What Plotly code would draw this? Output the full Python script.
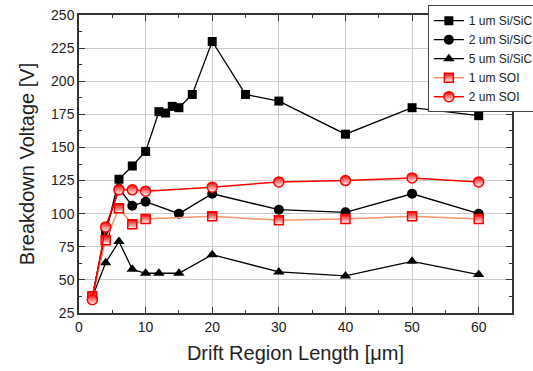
import plotly.graph_objects as go

x_1um_sisic = [2, 4, 6, 8, 10, 12, 13, 14, 15, 17, 20, 25, 30, 40, 50, 60]
y_1um_sisic = [38, 85, 126, 136, 147, 177, 176, 181, 180, 190, 230, 190, 185, 160, 180, 174]

x_2um_sisic = [2, 4, 6, 8, 10, 15, 20, 30, 40, 50, 60]
y_2um_sisic = [37, 88, 119, 106, 109, 100, 115, 103, 101, 115, 100]

x_5um_sisic = [2, 4, 6, 8, 10, 12, 15, 20, 30, 40, 50, 60]
y_5um_sisic = [37, 63, 79, 58, 55, 55, 55, 69, 56, 53, 64, 54]

x_1um_soi = [2, 4, 6, 8, 10, 20, 30, 40, 50, 60]
y_1um_soi = [37.5, 80, 104, 92, 96, 98, 95, 96, 98, 96]

x_2um_soi = [2, 4, 6, 8, 10, 20, 30, 40, 50, 60]
y_2um_soi = [35, 90, 118, 118, 117, 120, 124, 125, 127, 124]

names = ["1 um Si/SiC", "2 um Si/SiC", "5 um Si/SiC", "1 um SOI", "2 um SOI"]

fig = go.Figure()
fig.add_trace(go.Scatter(x=x_1um_sisic, y=y_1um_sisic, name=names[0], mode="lines+markers",
                         line=dict(color="black", width=1.3),
                         marker=dict(symbol="square", size=9, color="black")))
fig.add_trace(go.Scatter(x=x_2um_sisic, y=y_2um_sisic, name=names[1], mode="lines+markers",
                         line=dict(color="black", width=1.3),
                         marker=dict(symbol="circle", size=10, color="black")))
fig.add_trace(go.Scatter(x=x_5um_sisic, y=y_5um_sisic, name=names[2], mode="lines+markers",
                         line=dict(color="black", width=1.3),
                         marker=dict(symbol="triangle-up", size=10, color="black")))
fig.add_trace(go.Scatter(x=x_1um_soi, y=y_1um_soi, name=names[3], mode="lines+markers",
                         line=dict(color="#f4956b", width=1.5),
                         marker=dict(symbol="square", size=9, color="red",
                                     gradient=dict(type="vertical", color="white"),
                                     line=dict(color="red", width=1.5))))
fig.add_trace(go.Scatter(x=x_2um_soi, y=y_2um_soi, name=names[4], mode="lines+markers",
                         line=dict(color="red", width=1.5),
                         marker=dict(symbol="circle", size=10, color="red",
                                     gradient=dict(type="vertical", color="white"),
                                     line=dict(color="red", width=1.5))))

axis_common = dict(
    showline=True, linecolor="#333", linewidth=1.5, mirror="ticks",
    ticks="inside", ticklen=6, tickcolor="#333", tickwidth=1,
    showgrid=True, gridcolor="#cccccc", gridwidth=1, zeroline=False,
    tickfont=dict(family="Liberation Sans, Arial", size=14, color="#222"),
)

fig.update_layout(
    width=533, height=371,
    margin=dict(l=79, r=21, t=15, b=58, autoexpand=False),
    paper_bgcolor="white", plot_bgcolor="white",
    font=dict(family="Liberation Sans, Arial", color="#222"),
    xaxis=dict(range=[0, 65], tickvals=[0, 10, 20, 30, 40, 50, 60],
               minor=dict(tickvals=[5, 15, 25, 35, 45, 55, 65], ticks="inside", ticklen=3,
                          tickcolor="#333", showgrid=False),
               title=dict(text="Drift Region Length [μm]", font=dict(size=20), standoff=12),
               **axis_common),
    yaxis=dict(range=[25, 250], tickvals=[25, 50, 75, 100, 125, 150, 175, 200, 225, 250],
               minor=dict(tickvals=[37.5, 62.5, 87.5, 112.5, 137.5, 162.5, 187.5, 212.5, 237.5],
                          ticks="inside", ticklen=3, tickcolor="#333", showgrid=False),
               title=dict(text="Breakdown Voltage [V]", font=dict(size=20), standoff=11),
               **axis_common),
    legend=dict(x=1.062, y=1.033, xanchor="right", yanchor="top",
                bgcolor="white", bordercolor="#444", borderwidth=1,
                font=dict(family="Liberation Sans, Arial", size=12, color="#222"),
                itemwidth=30, tracegroupgap=0),
    showlegend=True,
)

fig.write_html("out.html")
